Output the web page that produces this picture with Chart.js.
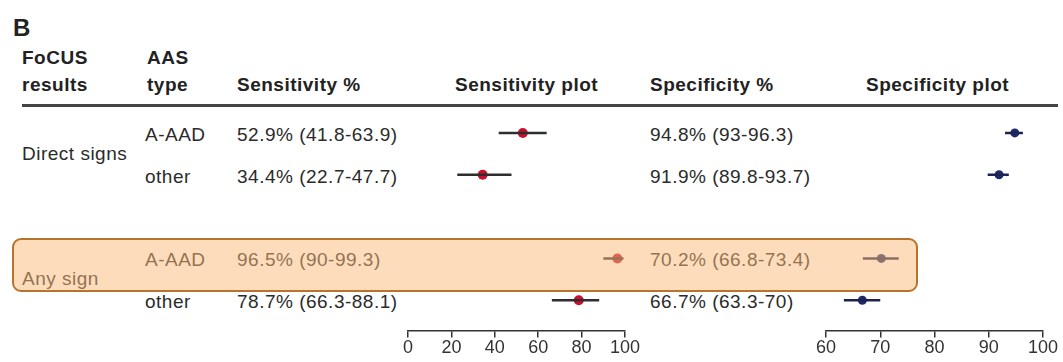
<!DOCTYPE html>
<html>
<head>
<meta charset="utf-8">
<script src="https://cdn.jsdelivr.net/npm/chart.js@4.4.1/dist/chart.umd.min.js"></script>
<style>
  body { margin: 0; background: #fff; width: 1063px; height: 362px; overflow: hidden; position: relative;
         font-family: "Liberation Sans", Arial, sans-serif; color: #2b2b2b; }
  .t { position: absolute; font-size: 19px; letter-spacing: 0.5px; white-space: nowrap; line-height: 1; transform: translateY(-50%); }
  .h { font-weight: bold; color: #222; }
  canvas { position: absolute; }
  #rule { position: absolute; left: 22px; top: 104px; width: 1036px; height: 3px; background: #444; }
  #box { position: absolute; left: 12px; top: 238px; width: 906px; height: 54px; box-sizing: border-box;
         border: 2px solid #b8742c; border-radius: 9px; background: rgba(250, 186, 120, 0.5); z-index: 5; }
</style>
</head>
<body>
<div class="t h" style="left:13px;top:28px;font-size:24px">B</div>
<div class="t h" style="left:22px;top:57px">FoCUS</div>
<div class="t h" style="left:22px;top:84px">results</div>
<div class="t h" style="left:147px;top:57px">AAS</div>
<div class="t h" style="left:147px;top:84px">type</div>
<div class="t h" style="left:237px;top:84px">Sensitivity %</div>
<div class="t h" style="left:455px;top:84px">Sensitivity plot</div>
<div class="t h" style="left:650px;top:84px">Specificity %</div>
<div class="t h" style="left:866px;top:84px">Specificity plot</div>
<div id="rule"></div>
<div id="rows"></div>
<canvas id="sensChart" width="257" height="262" style="left:388px;top:100px"></canvas>
<canvas id="specChart" width="257" height="262" style="left:806px;top:100px"></canvas>
<div id="box"></div>
<script>
// table data
var groups = ["Direct signs", "Any sign"];
var rowGroup = [0, 0, 1, 1];
var aasType = ["A-AAD", "other", "A-AAD", "other"];
var rowPos = [0, 1, 3, 4];          // row index, with an empty row between groups

var sens   = [52.9, 34.4, 96.5, 78.7];
var sensLo = [41.8, 22.7, 90, 66.3];
var sensHi = [63.9, 47.7, 99.3, 88.1];

var spec   = [94.8, 91.9, 70.2, 66.7];
var specLo = [93, 89.8, 66.8, 63.3];
var specHi = [96.3, 93.7, 73.4, 70];

var sensTicks = [0, 20, 40, 60, 80, 100];
var specTicks = [60, 70, 80, 90, 100];

function pct(v, lo, hi) { return v + "% (" + lo + "-" + hi + ")"; }

function makeChart(id, est, lo, hi, ticks, pointColor, lineColor, radius) {
  var datasets = [];
  for (var i = 0; i < est.length; i++) {
    datasets.push({
      data: [{ x: lo[i], y: rowPos[i] }, { x: hi[i], y: rowPos[i] }],
      showLine: true,
      borderColor: lineColor,
      borderWidth: 2.5,
      pointRadius: 0
    });
  }
  datasets.push({
    data: est.map(function (v, i) { return { x: v, y: rowPos[i] }; }),
    pointRadius: radius,
    pointBackgroundColor: pointColor,
    pointBorderColor: pointColor,
    pointBorderWidth: 0
  });
  return new Chart(document.getElementById(id), {
    type: 'scatter',
    data: { datasets: datasets },
    options: {
      responsive: false,
      animation: false,
      layout: { padding: { left: 20, right: 20, top: 12, bottom: 3 } },
      plugins: { legend: { display: false }, tooltip: { enabled: false } },
      scales: {
        x: {
          type: 'linear',
          min: ticks[0],
          max: ticks[ticks.length - 1],
          afterBuildTicks: function (s) { s.ticks = ticks.map(function (v) { return { value: v }; }); },
          grid: { drawOnChartArea: false, tickLength: 7, color: '#333', lineWidth: 1.5 },
          border: { color: '#333', width: 1.5 },
          ticks: { padding: 0, color: '#333', font: { family: 'Liberation Sans', size: 18 }, autoSkip: false, maxRotation: 0 }
        },
        y: {
          type: 'linear',
          reverse: true,
          min: -0.5,
          max: 4.72,
          display: false
        }
      }
    }
  });
}

var sensChart = makeChart('sensChart', sens, sensLo, sensHi, sensTicks, '#c8102e', '#2e2e2e', 5);
var specChart = makeChart('specChart', spec, specLo, specHi, specTicks, '#1c2a6e', '#1e2250', 4.5);

// text rows placed on the chart's own row scale
var rowsDiv = document.getElementById('rows');
function rowY(i) { return 100 + sensChart.scales.y.getPixelForValue(rowPos[i]); }
function addText(txt, x, y) {
  var d = document.createElement('div');
  d.className = 't';
  d.style.left = x + 'px';
  d.style.top = y + 'px';
  d.textContent = txt;
  rowsDiv.appendChild(d);
}
for (var i = 0; i < aasType.length; i++) {
  var y = rowY(i) + 1;
  addText(aasType[i], 145, y);
  addText(pct(sens[i], sensLo[i], sensHi[i]), 237, y);
  addText(pct(spec[i], specLo[i], specHi[i]), 650, y);
}
groups.forEach(function (g, gi) {
  var ys = [];
  rowGroup.forEach(function (r, i) { if (r === gi) ys.push(rowY(i)); });
  addText(g, 22, (ys[0] + ys[ys.length - 1]) / 2 - 1);
});
</script>
</body>
</html>
